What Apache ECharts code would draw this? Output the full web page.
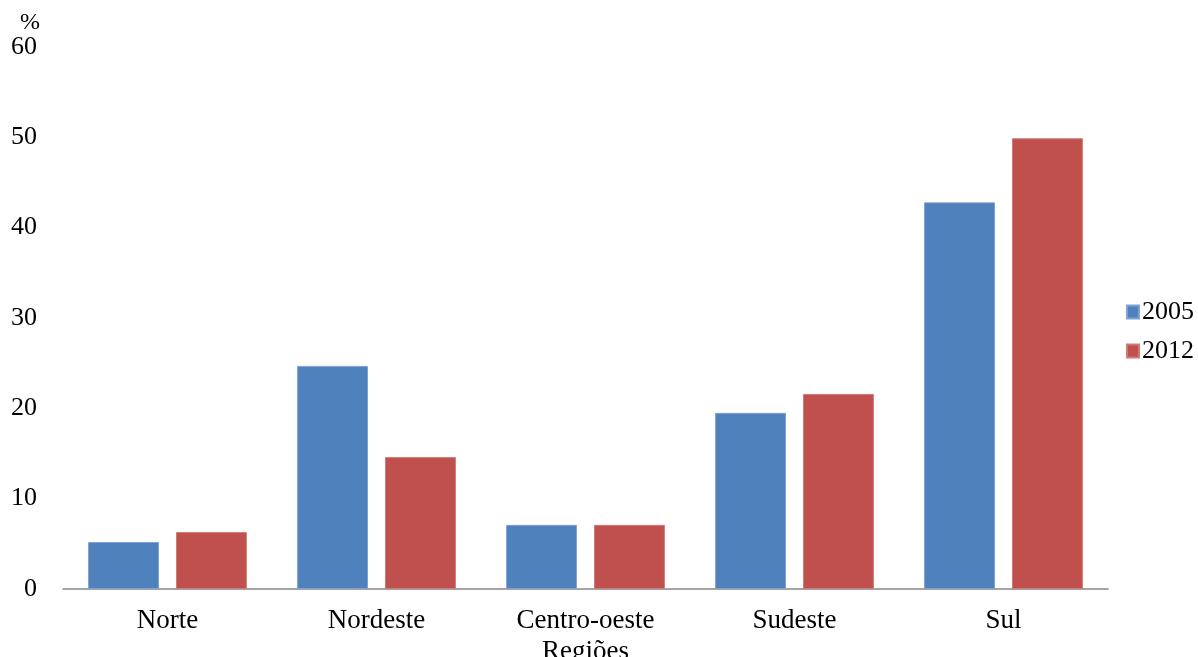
<!DOCTYPE html>
<html>
<head>
<meta charset="utf-8">
<script src="https://cdn.jsdelivr.net/npm/echarts@6/dist/echarts.min.js"></script>
<style>
  html, body { margin: 0; padding: 0; background: #ffffff; }
  #chart { width: 1198px; height: 657px; }
</style>
</head>
<body>
<div id="chart"></div>
<script>
// Regional shares (%), 2005 vs 2012
const regions = ['Norte', 'Nordeste', 'Centro-oeste', 'Sudeste', 'Sul'];
const values2005 = [5.2, 24.7, 7.1, 19.5, 42.8];
const values2012 = [6.3, 14.6, 7.1, 21.6, 49.9];
const seriesNames = ['2005', '2012'];

const FONT = '"Liberation Serif", "Times New Roman", serif';

const chart = echarts.init(document.getElementById('chart'), null, { renderer: 'canvas' });

chart.setOption({
  animation: false,
  backgroundColor: '#ffffff',
  textStyle: { fontFamily: FONT, color: '#000' },
  grid: { left: 63, right: 90, top: 47, bottom: 68, containLabel: false, outerBoundsMode: 'none' },
  legend: {
    orient: 'vertical',
    left: 1121,
    top: 294,
    itemWidth: 12,
    itemHeight: 13,
    itemGap: 13,
    icon: 'rect',
    textStyle: { fontFamily: FONT, fontSize: 26, color: '#000', padding: [0, 0, 0, -2] },
    data: seriesNames
  },
  graphic: [{
    type: 'text',
    left: 20,
    top: 11,
    style: { text: '%', font: '24px ' + FONT, fill: '#000' }
  }],
  xAxis: {
    type: 'category',
    data: regions,
    name: 'Regiões',
    nameLocation: 'middle',
    nameGap: 47,
    nameTextStyle: { fontFamily: FONT, fontSize: 27, color: '#000' },
    axisLine: { show: true, lineStyle: { color: '#868686', width: 1.5 } },
    axisTick: { show: false },
    axisLabel: { fontFamily: FONT, fontSize: 27, color: '#000', margin: 18 },
    splitLine: { show: false }
  },
  yAxis: {
    type: 'value',
    min: 0,
    max: 60,
    interval: 10,
    axisLine: { show: false },
    axisTick: { show: false },
    splitLine: { show: false },
    axisLabel: { fontFamily: FONT, fontSize: 26, color: '#000', margin: 26 }
  },
  series: [
    {
      name: seriesNames[0],
      type: 'bar',
      data: values2005,
      barGap: '24%',
      barCategoryGap: '24%',
      itemStyle: { color: '#4F81BD', borderColor: '#7fa2d1', borderWidth: 1 }
    },
    {
      name: seriesNames[1],
      type: 'bar',
      data: values2012,
      itemStyle: { color: '#C0504D', borderColor: '#d07a77', borderWidth: 1 }
    }
  ]
});
</script>
</body>
</html>
